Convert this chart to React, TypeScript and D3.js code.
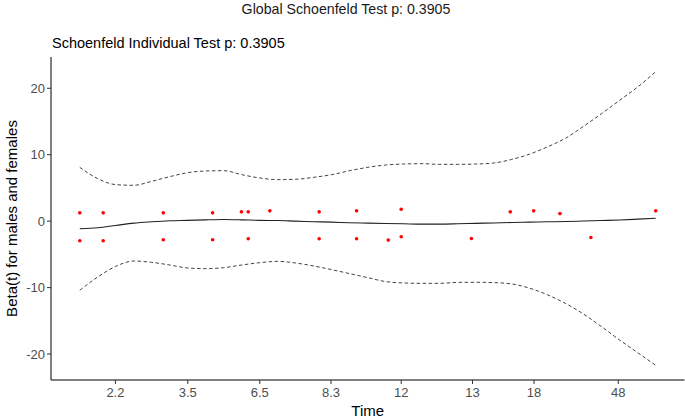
import React from 'react';
import * as d3 from 'd3';

const TIME_GRID = [0, 0.5, 1, 1.5, 2, 2.5, 3, 3.5, 4, 4.5, 5, 5.5, 6, 6.5, 7, 7.5, 8, 8.5, 9, 9.5, 10, 10.5, 11, 11.5, 12, 12.5, 13, 13.5, 14, 14.5, 15, 15.5, 16];
const FIT = [-1.15, -1.0, -0.65, -0.3, -0.1, 0.05, 0.12, 0.2, 0.25, 0.2, 0.12, 0.1, 0.0, -0.08, -0.15, -0.25, -0.3, -0.35, -0.4, -0.45, -0.45, -0.4, -0.33, -0.27, -0.2, -0.15, -0.1, -0.06, 0.02, 0.1, 0.18, 0.3, 0.43];
const UPPER = [8.1, 6.4, 5.5, 5.4, 6.0, 6.7, 7.3, 7.55, 7.6, 7.0, 6.5, 6.25, 6.3, 6.6, 7.0, 7.6, 8.1, 8.45, 8.6, 8.65, 8.55, 8.55, 8.6, 8.75, 9.3, 10.1, 11.2, 12.5, 14.3, 16.2, 18.2, 20.2, 22.5];
const LOWER = [-10.4, -8.4, -6.8, -6.0, -6.2, -6.6, -7.05, -7.15, -7.0, -6.6, -6.25, -6.05, -6.3, -6.75, -7.3, -7.9, -8.5, -9.1, -9.3, -9.36, -9.36, -9.22, -9.2, -9.25, -9.45, -10.1, -11.1, -12.4, -14.0, -15.9, -17.9, -19.8, -21.7];

const RESID_TIME = [0, 0, 0.65, 0.65, 2.32, 2.32, 3.69, 3.69, 4.49, 4.68, 4.68, 5.28, 6.65, 6.65, 7.69, 7.69, 8.57, 8.93, 8.93, 10.88, 11.96, 12.61, 13.34, 14.2, 16];
const RESID_BETA = [1.25, -2.95, 1.25, -2.95, 1.25, -2.8, 1.25, -2.8, 1.4, 1.4, -2.65, 1.55, 1.4, -2.65, 1.55, -2.65, -2.85, 1.8, -2.35, -2.6, 1.4, 1.55, 1.14, -2.46, 1.55];

const X_TICK_POS = [0.99, 3.0, 5.0, 6.98, 8.93, 10.91, 12.62, 14.96];
const X_TICK_LABELS = ['2.2', '3.5', '6.5', '8.3', '12', '13', '18', '48'];
const Y_TICKS = [-20, -10, 0, 10, 20];

const W = 685;
const H = 420;
const M = { left: 51, right: 684.5, top: 57, bottom: 380 };
const FONT = "'Liberation Sans', Arial, sans-serif";

export default function App() {
  const tExt = d3.extent(TIME_GRID) as [number, number];
  const tPad = (tExt[1] - tExt[0]) * 0.05;
  const x = d3.scaleLinear().domain([tExt[0] - tPad, tExt[1] + tPad]).range([M.left, M.right]);
  const yMin = d3.min(LOWER) as number;
  const yMax = d3.max(UPPER) as number;
  const yPad = (yMax - yMin) * 0.05;
  const y = d3.scaleLinear().domain([yMin - yPad, yMax + yPad]).range([M.bottom, M.top]);

  const line = (vals: number[]) =>
    d3
      .line<number>()
      .x((_, i) => x(TIME_GRID[i]))
      .y((d) => y(d))
      .curve(d3.curveMonotoneX)(vals) as string;

  return (
    <svg width={W} height={H} style={{ position: 'absolute', left: 0, top: 0, background: '#fff' }} fontFamily={FONT}>
      <rect x={0} y={0} width={W} height={H} fill="#fff" />
      <text x={346} y={14} textAnchor="middle" fontSize={14.2} fill="#1a1a1a">
        Global Schoenfeld Test p: 0.3905
      </text>
      <text x={52} y={48} textAnchor="start" fontSize={14.5} fill="#000">
        Schoenfeld Individual Test p: 0.3905
      </text>

      {/* curves */}
      <path d={line(UPPER)} fill="none" stroke="#444" strokeWidth={1} strokeDasharray="3.5,2.5" />
      <path d={line(LOWER)} fill="none" stroke="#444" strokeWidth={1} strokeDasharray="3.5,2.5" />
      <path d={line(FIT)} fill="none" stroke="#222" strokeWidth={1.1} />

      {/* residual points */}
      {RESID_TIME.map((t, i) => (
        <circle key={i} cx={x(t)} cy={y(RESID_BETA[i])} r={1.8} fill="#ff0000" />
      ))}

      {/* axes */}
      <line x1={M.left} x2={M.left} y1={M.top} y2={M.bottom} stroke="#000" strokeWidth={1} />
      <line x1={M.left} x2={M.right} y1={M.bottom} y2={M.bottom} stroke="#000" strokeWidth={1} />
      {Y_TICKS.map((v) => (
        <g key={v}>
          <line x1={M.left - 4} x2={M.left} y1={y(v)} y2={y(v)} stroke="#333" />
          <text x={M.left - 6} y={y(v)} dy="0.35em" textAnchor="end" fontSize={13} fill="#4d4d4d">
            {v}
          </text>
        </g>
      ))}
      {X_TICK_POS.map((t, i) => (
        <g key={i}>
          <line x1={x(t)} x2={x(t)} y1={M.bottom} y2={M.bottom + 4} stroke="#333" />
          <text x={x(t)} y={M.bottom + 17} textAnchor="middle" fontSize={13} fill="#4d4d4d">
            {X_TICK_LABELS[i]}
          </text>
        </g>
      ))}
      <text x={(M.left + M.right) / 2} y={416} textAnchor="middle" fontSize={15} fill="#000">
        Time
      </text>
      <text
        transform={`translate(17, ${(M.top + M.bottom) / 2}) rotate(-90)`}
        textAnchor="middle"
        fontSize={15}
        fill="#000"
      >
        Beta(t) for males and females
      </text>
    </svg>
  );
}
